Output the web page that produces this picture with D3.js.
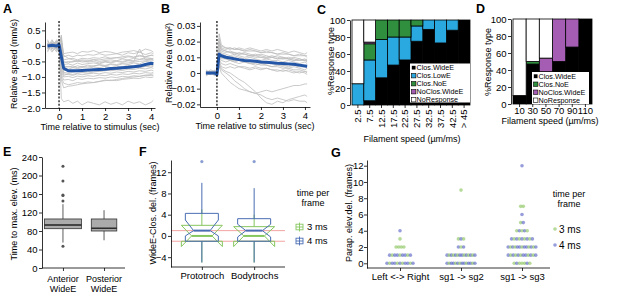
<!DOCTYPE html>
<html><head><meta charset="utf-8">
<script src="https://cdn.jsdelivr.net/npm/d3@7"></script>
<style>body{margin:0;background:#fff} text{font-family:"Liberation Sans",Arial,sans-serif}</style>
</head><body>
<svg id="c" width="617" height="297"></svg>
<script>
// ---------------- DATA ----------------
const timesAB = [-0.5,-0.3,-0.1,0,0.1,0.2,0.4,0.6,0.8,1,1.25,1.5,1.75,2,2.25,2.5,2.75,3,3.25,3.5,3.75,4,4.1];
const tracesA = [
 [0.05,0.1,0.0,0.1,0.2,-0.25,-0.22,-0.2,-0.25,-0.18,-0.2,-0.15,-0.22,-0.18,-0.2,-0.25,-0.2,-0.18,-0.15,-0.2,-0.1,-0.15,-0.2],
 [-0.05,0.2,-0.1,0.0,0.35,-0.35,-0.3,-0.35,-0.3,-0.32,-0.28,-0.3,-0.25,-0.3,-0.28,-0.25,-0.3,-0.22,-0.25,-0.2,-0.28,-0.22,-0.25],
 [0.1,-0.1,0.15,0.05,-0.2,-0.45,-0.42,-0.4,-0.45,-0.4,-0.42,-0.38,-0.4,-0.35,-0.4,-0.38,-0.35,-0.32,-0.36,-0.3,-0.35,-0.3,-0.32],
 [-0.1,0.0,-0.2,0.1,0.1,-0.5,-0.55,-0.5,-0.48,-0.52,-0.5,-0.45,-0.5,-0.47,-0.45,-0.48,-0.42,-0.45,-0.4,-0.43,-0.38,-0.4,-0.42],
 [0.0,0.05,0.1,-0.05,-0.4,-0.6,-0.58,-0.62,-0.55,-0.6,-0.57,-0.55,-0.58,-0.52,-0.55,-0.5,-0.53,-0.48,-0.5,-0.1,-0.45,-0.4,-0.45],
 [0.2,-0.1,0.0,0.05,0.0,-0.65,-0.68,-0.65,-0.7,-0.66,-0.68,-0.64,-0.62,-0.65,-0.6,-0.63,-0.58,-0.6,-0.55,-0.58,-0.5,-0.52,-0.55],
 [-0.2,0.1,-0.05,0.0,-0.6,-0.72,-0.75,-0.7,-0.73,-0.7,-0.72,-0.68,-0.7,-0.66,-0.7,-0.65,-0.68,-0.62,-0.64,-0.6,-0.62,-0.58,-0.6],
 [0.05,-0.05,0.2,0.1,0.3,-0.8,-0.78,-0.82,-0.78,-0.8,-0.76,-0.78,-0.74,-0.76,-0.72,-0.74,-0.7,-0.72,-0.68,-0.7,-0.66,-0.68,-0.65],
 [-0.05,0.0,-0.1,-0.2,-0.5,-0.85,-0.88,-0.85,-0.82,-0.85,-0.83,-0.8,-0.82,-0.78,-0.8,-0.77,-0.79,-0.75,-0.76,-0.72,-0.74,-0.7,-0.72],
 [0.0,0.15,0.05,0.0,-0.3,-0.9,-0.92,-0.95,-0.9,-0.93,-0.9,-0.88,-0.9,-0.86,-0.88,-0.84,-0.86,-0.82,-0.84,-0.8,-0.82,-0.78,-0.8],
 [0.1,-0.15,-0.05,0.05,-0.8,-1.0,-0.98,-1.02,-0.97,-1.0,-0.96,-0.98,-0.94,-0.96,-0.92,-0.94,-0.9,-0.92,-0.88,-0.9,-0.86,-0.88,-0.85],
 [-0.15,0.05,0.1,-0.1,-0.9,-1.1,-1.08,-1.12,-1.05,-1.08,-1.04,-1.06,-1.02,-1.04,-1.0,-1.02,-0.98,-1.0,-0.96,-0.98,-0.94,-0.96,-0.95],
 [0.0,-0.2,0.0,0.1,-1.0,-1.2,-1.25,-1.22,-1.18,-1.2,-1.16,-1.18,-1.14,-1.12,-1.1,-1.12,-1.08,-1.06,-1.04,-1.05,-1.0,-1.02,-1.0],
 [0.05,0.1,-0.1,0.0,-1.7,-1.8,-1.75,-1.85,-1.78,-1.9,-1.8,-1.85,-1.9,-1.8,-1.88,-1.82,-1.9,-1.78,-1.85,-1.8,-1.9,-1.82,-1.75],
 [-0.1,0.05,0.15,0.0,-0.15,-0.55,-0.5,-0.52,-0.48,-0.45,-0.47,-0.44,-0.45,-0.42,-0.4,-0.38,-0.4,-0.35,-0.37,-0.33,-0.35,-0.3,-0.3],
 [0.15,-0.05,0.05,0.0,-0.5,-0.7,-0.66,-0.7,-0.64,-0.68,-0.62,-0.66,-0.6,-0.63,-0.58,-0.6,-0.56,-0.55,-0.52,-0.5,-0.48,-0.45,-0.47],
 [-0.1,0.1,-0.15,0.05,-0.7,-0.95,-0.9,-0.92,-0.88,-0.86,-0.88,-0.84,-0.82,-0.8,-0.78,-0.76,-0.74,-0.72,-0.7,-0.68,-0.66,-0.62,-0.64],
 [0.0,-0.05,0.1,0.2,0.1,-0.3,-0.4,-0.45,-0.5,-0.48,-0.52,-0.5,-0.55,-0.5,-0.52,-0.48,-0.5,-0.46,-0.48,-0.44,-0.42,-0.45,-0.4],
 [0.05,0.0,-0.05,-0.1,-1.1,-1.35,-1.3,-1.28,-1.25,-1.22,-1.2,-1.18,-1.15,-1.1,-1.12,-1.08,-1.05,-1.02,-1.0,-0.98,-0.95,-0.92,-0.9]
];
const meanA = [0.0,0.02,0.0,0.05,-0.35,-0.72,-0.8,-0.8,-0.8,-0.79,-0.78,-0.77,-0.76,-0.75,-0.73,-0.72,-0.7,-0.69,-0.67,-0.65,-0.6,-0.56,-0.57];
const tracesB = [
 [0.001,0.0,0.001,0.0,0.025,0.018,0.016,0.015,0.016,0.015,0.014,0.015,0.014,0.013,0.014,0.013,0.012,0.013,0.012,0.011,0.012,0.011,0.011],
 [-0.001,0.001,0.0,0.002,0.02,0.015,0.014,0.013,0.012,0.013,0.012,0.011,0.012,0.011,0.01,0.011,0.01,0.009,0.01,0.009,0.008,0.009,0.008],
 [0.0,-0.001,0.002,-0.002,0.015,0.012,0.011,0.01,0.011,0.01,0.009,0.01,0.009,0.008,0.009,0.008,0.008,0.007,0.008,0.007,0.006,0.007,0.006],
 [0.002,0.0,-0.001,0.0,0.018,0.014,0.013,0.014,0.013,0.012,0.013,0.012,0.011,0.012,0.011,0.01,0.011,0.01,0.009,0.01,0.009,0.008,0.009],
 [-0.002,0.0,0.001,-0.001,0.01,0.008,0.007,0.008,0.007,0.006,0.007,0.006,0.005,0.006,0.005,0.004,0.005,0.004,0.003,0.004,0.003,0.002,0.003],
 [0.0,0.001,-0.002,0.0,0.012,0.01,0.009,0.008,0.007,0.008,0.007,0.006,0.006,0.005,0.005,0.004,0.004,0.003,0.003,0.002,0.002,0.001,0.001],
 [0.001,-0.001,0.0,0.001,0.008,0.004,0.003,0.004,0.003,0.004,0.003,0.002,0.003,0.002,0.003,0.002,0.001,0.002,0.001,0.0,0.001,0.0,-0.001],
 [0.0,0.002,0.001,-0.002,0.005,0.002,0.0,-0.002,-0.005,-0.007,-0.01,-0.012,-0.013,-0.012,-0.011,-0.012,-0.011,-0.01,-0.009,-0.008,-0.008,-0.007,-0.007],
 [-0.001,0.0,0.0,0.001,0.006,0.003,0.001,0.0,-0.002,-0.004,-0.006,-0.009,-0.012,-0.016,-0.019,-0.02,-0.018,-0.019,-0.017,-0.016,-0.015,-0.014,-0.015],
 [0.001,0.0,-0.001,0.0,0.004,0.0,-0.003,-0.006,-0.008,-0.01,-0.011,-0.012,-0.013,-0.014,-0.016,-0.017,-0.016,-0.017,-0.018,-0.017,-0.018,-0.018,-0.019],
 [0.0,0.0,0.001,0.0,0.022,0.016,0.015,0.016,0.015,0.016,0.015,0.016,0.015,0.014,0.015,0.014,0.015,0.014,0.013,0.014,0.013,0.012,0.013],
 [0.0,-0.001,0.0,0.001,0.014,0.011,0.01,0.009,0.01,0.009,0.008,0.008,0.007,0.007,0.006,0.006,0.005,0.005,0.004,0.005,0.004,0.004,0.003],
 [0.001,0.0,0.0,-0.001,0.009,0.006,0.005,0.006,0.005,0.004,0.004,0.003,0.004,0.003,0.003,0.002,0.002,0.001,0.002,0.001,0.0,0.001,0.0],
 [0.0,0.001,0.0,0.0,0.016,0.013,0.012,0.011,0.012,0.011,0.01,0.011,0.01,0.01,0.009,0.01,0.009,0.01,0.009,0.008,0.009,0.008,0.008],
 [0.001,0.0,-0.001,0.002,0.018,0.015,0.014,0.013,0.013,0.012,0.012,0.011,0.011,0.01,0.01,0.01,0.009,0.009,0.009,0.008,0.008,0.008,0.007],
 [0.0,0.001,0.0,-0.001,0.011,0.009,0.009,0.008,0.008,0.008,0.007,0.007,0.007,0.006,0.006,0.006,0.006,0.005,0.005,0.005,0.004,0.004,0.004],
 [-0.001,0.0,0.001,0.0,0.02,0.017,0.016,0.016,0.015,0.015,0.014,0.014,0.014,0.013,0.013,0.013,0.012,0.012,0.012,0.011,0.011,0.011,0.01]
];
const meanB = [0.0,0.0,0.0,-0.001,0.012,0.011,0.01,0.0095,0.009,0.0085,0.008,0.0078,0.0075,0.007,0.0068,0.0065,0.0062,0.006,0.0058,0.0055,0.005,0.0045,0.0043];

const ticksAy = [0.5,0,-0.5,-1,-1.5,-2], labelsAy = ["0.5","0","\u22120.5","\u22121.0","\u22121.5","\u22122.0"];
const ticksBy = [0.03,0.02,0.01,0,-0.01,-0.02], labelsBy = ["0.03","0.02","0.01","0","\u22120.01","\u22120.02"];
const ticksTime = [0,1,2,3,4];

const respKeysC = ["Clos.WideE","Clos.LowE","Clos.NoE","NoClos.WideE","NoResponse"];
const catsC = ["2.5","7.5","12.5","17.5","22.5","27.5","32.5","37.5","42.5","> 45"];
const cWide   = [0,5,32,47,53,75,89,73,88,100];
const cLow    = [25,48,45,33,27,18,11,27,12,0];
const cNoE    = [0,19,23,20,20,7,0,0,0,0];
const cNoClos = [0,2,0,0,0,0,0,0,0,0];
const cNoResp = [75,26,0,0,0,0,0,0,0,0];
const respKeysD = ["Clos.WideE","Clos.NoE","NoClos.WideE","NoResponse"];
const catsD = ["10","30","50","70","90","110"];
const dWide   = [10,47,38,50,67,100];
const dNoE    = [0,3,0,0,0,0];
const dNoClos = [0,0,16,50,33,0];
const dNoResp = [90,50,46,0,0,0];
const ticksPct = [0,20,40,60,80,100];

const catsE = ["Anterior WideE","Posterior WideE"];
const eLo = [55,60], eQ1 = [85,80], eMed = [93,86], eQ3 = [106,106], eHi = [138,125], eN = [40,19];
const eOut = [[47,145,157,158,188,220],[]];
const ticksE = [0,40,80,120,160,200,240];

const catsF = ["Prototroch","Bodytrochs"];
const seriesF = ["3 ms","4 ms"];
// per category: [3 ms, 4 ms]
const fLo = [[-5,-5],[-5,-5]], fQ1 = [[-1,-1],[-1,-1]], fMed = [[0,1],[0,1]];
const fQ3 = [[2,4.25],[1.75,3.25]], fHi = [[5,10],[4,9]];
const fNotchLo = [[-2,0],[-2,-0.2]], fNotchHi = [[2,3],[1.75,2.2]];
const fOut = [[[],[14]],[[],[14]]];
const fRef = [1,-1];
const ticksF = [-4,0,4,8,12];

const catsG = ["Left <-> Right","sg1 -> sg2","sg1 -> sg3"];
const gVals = [0,1,2,3,4,5,6,7,9,12];
const gCount3 = [[4,3,4,1,0,0,0,0,0,0],[5,6,1,2,0,0,0,0,1,0],[5,5,5,4,3,1,0,2,0,0]];
const gCount4 = [[7,6,0,0,1,0,0,0,0,0],[9,8,2,1,0,0,0,0,0,0],[2,7,8,5,2,1,1,0,0,1]];
const ticksG = [0,2,4,6,8,10,12];

// ---------------- HELPERS ----------------
const svg = d3.select("#c");
const FS = 9, TFS = 9.5;
function styleAxis(g, removeDomain){
  g.selectAll("text").attr("font-size",TFS).attr("fill","#000").attr("font-family","Liberation Sans, Arial, sans-serif");
  g.selectAll("line").attr("stroke","#000").attr("stroke-width",0.8);
  if (removeDomain) g.select(".domain").remove(); else g.select(".domain").attr("stroke","#000").attr("stroke-width",0.8);
}
function leftAxis(x, scale, vals, labels, pad){
  const g = svg.append("g").attr("transform",`translate(${x},0)`)
    .call(d3.axisLeft(scale).tickValues(vals).tickFormat((d,i)=>labels?labels[i]:d).tickSize(3).tickSizeOuter(0).tickPadding(pad==null?1.5:pad));
  styleAxis(g); return g;
}
function bottomAxis(y, scale, vals, labels, removeDomain){
  const ax = d3.axisBottom(scale).tickSize(3).tickSizeOuter(0).tickPadding(2);
  if (vals) ax.tickValues(vals);
  if (labels) ax.tickFormat((d,i)=>labels[i]);
  const g = svg.append("g").attr("transform",`translate(0,${y})`).call(ax);
  styleAxis(g, removeDomain); return g;
}
function txt(x,y,s,size,anchor,weight){
  return svg.append("text").attr("x",x).attr("y",y).attr("font-size",size||FS)
   .attr("text-anchor",anchor||"middle").attr("font-weight",weight||"normal").text(s);
}
function ytitle(x,y,s){
  svg.append("text").attr("transform",`translate(${x},${y}) rotate(-90)`).attr("text-anchor","middle")
   .attr("dy","0.35em").attr("font-size",FS).text(s);
}
function hline(x1,x2,y,color,w){ return svg.append("line").attr("x1",x1).attr("x2",x2).attr("y1",y).attr("y2",y).attr("stroke",color).attr("stroke-width",w||0.8); }
function vline(x,y1,y2,color,w){ return svg.append("line").attr("x1",x).attr("x2",x).attr("y1",y1).attr("y2",y2).attr("stroke",color).attr("stroke-width",w||0.8); }

// panel letters
[["A",3,13],["B",161,13],["C",317,14],["D",476,13],["E",3,156],["F",139,156],["G",331,157]]
  .forEach(([l,x,y])=>txt(x,y,l,12.5,"start","bold"));

// ---------------- PANEL A & B ----------------
function tracePanel(xs, ys, traces, mean, x0, yTicks, yLabels, title, titleX, titleY){
  const line = d3.line().x((d,i)=>xs(timesAB[i])).y(d=>ys(d));
  traces.forEach(t=>svg.append("path").attr("d",line(t)).attr("fill","none").attr("stroke","#bdbdbd").attr("stroke-width",0.8));
  svg.append("path").attr("d",line(mean)).attr("fill","none").attr("stroke","#2456a8").attr("stroke-width",3).attr("stroke-linejoin","round");
  vline(xs(0), ys.range()[1]-1, ys.range()[0], "#000", 1.2).attr("stroke-dasharray","2,1.6");
  leftAxis(x0, ys, yTicks, yLabels);
  bottomAxis(ys.range()[0], xs, ticksTime, ticksTime.map(String));
  txt(d3.mean(xs.range()), ys.range()[0]+22, "Time relative to stimulus (sec)");
  ytitle(titleX, titleY, title);
}
const xA = d3.scaleLinear().domain([-0.61,4.17]).range([45,155]);
const yA = d3.scaleLinear().domain([-2,0.77]).range([108,22]);
tracePanel(xA, yA, tracesA, meanA, 45, ticksAy, labelsAy, "Relative speed (mm/s)", 14, 64);
const xB = d3.scaleLinear().domain([-0.77,4.23]).range([200,310]);
const yB = d3.scaleLinear().domain([-0.0217,0.0325]).range([107,22]);
tracePanel(xB, yB, tracesB, meanB, 200, ticksBy, labelsBy, "Relative Area (mm\u00B2)", 169, 63);

// ---------------- PANEL C & D ----------------
const respColor = {"Clos.WideE":"#000000","Clos.LowE":"#2aa9e0","Clos.NoE":"#2f8f3f","NoClos.WideE":"#a45db3","NoResponse":"#ffffff"};
function stackPanel(cats, keys, cols, x0, x1, yTop, yBot, axisX, rotate, legend){
  const rows = cats.map((c,i)=>{ const r={cat:c}; keys.forEach((k,j)=>r[k]=cols[j][i]); return r; });
  const xs = d3.scaleBand().domain(cats).range([x0,x1]).padding(0);
  const ys = d3.scaleLinear().domain([0,100]).range([yBot,yTop]);
  const st = d3.stack().keys(keys)(rows);
  st.forEach(layer=>{
    svg.append("g").selectAll("rect").data(layer.filter(d=>d[1]-d[0]>0)).join("rect")
      .attr("x",d=>xs(d.data.cat)).attr("width",xs.bandwidth())
      .attr("y",d=>ys(d[1])).attr("height",d=>ys(d[0])-ys(d[1]))
      .attr("fill",respColor[layer.key]).attr("stroke","#000").attr("stroke-width",0.8);
  });
  leftAxis(axisX, ys, ticksPct, ticksPct.map(String));
  const g = bottomAxis(yBot, xs, null, null, true);
  if (rotate){
    g.selectAll("text").attr("transform","rotate(-90)").attr("x",-4.5).attr("y",0).attr("dy","0.35em").attr("text-anchor","end");
  } else {
    g.selectAll("text").attr("y",3.5);
  }
  const [lx,ly,lw,lh,step] = legend;
  svg.append("rect").attr("x",lx).attr("y",ly).attr("width",lw).attr("height",lh).attr("fill","#fff");
  keys.forEach((k,i)=>{
    const cy = ly+4.2+i*step;
    svg.append("rect").attr("x",lx+1.5).attr("y",cy-2.2).attr("width",4.4).attr("height",4.4)
      .attr("fill",respColor[k]).attr("stroke",k==="Clos.WideE"?"#fff":"#000").attr("stroke-width",0.6);
    svg.append("text").attr("x",lx+6.5).attr("y",cy).attr("dy","0.35em").attr("font-size",7.2).text(k);
  });
  return xs;
}
stackPanel(catsC, respKeysC, [cWide,cLow,cNoE,cNoClos,cNoResp], 352, 470, 20, 105, 350, true, [410,63.5,60,39,8]);
txt(412, 142, "Filament speed (\u00B5m/ms)");
ytitle(331, 61, "%Response type");
stackPanel(catsD, respKeysD, [dWide,dNoE,dNoClos,dNoResp], 513, 592, 19, 104, 511, false, [532,72,57,32,8]);
txt(550, 124, "Filament speed (\u00B5m/ms)");
ytitle(488, 62, "%Response type");

// ---------------- PANEL E ----------------
const xE = d3.scalePoint().domain(catsE).range([42,125]).padding(0.51);
const yE = d3.scaleLinear().domain([0,240]).range([268,157]);
const maxN = d3.max(eN);
catsE.forEach((c,i)=>{
  const cx = xE(c), w = 0.9*xE.step()*Math.sqrt(eN[i]/maxN);
  vline(cx, yE(eHi[i]), yE(eQ3[i]), "#333");
  vline(cx, yE(eQ1[i]), yE(eLo[i]), "#333");
  svg.append("rect").attr("x",cx-w/2).attr("width",w).attr("y",yE(eQ3[i])).attr("height",yE(eQ1[i])-yE(eQ3[i]))
    .attr("fill","#ababab").attr("stroke","#333").attr("stroke-width",0.8);
  hline(cx-w/2, cx+w/2, yE(eMed[i]), "#222", 1.4);
  eOut[i].forEach(v=>svg.append("circle").attr("cx",cx).attr("cy",yE(v)).attr("r",1.5).attr("fill","#555"));
});
leftAxis(42, yE, ticksE, ticksE.map(String));
const gE = svg.append("g").attr("transform","translate(0,268)").call(d3.axisBottom(xE).tickSize(3).tickSizeOuter(0).tickFormat(()=>""));
styleAxis(gE);
gE.select(".domain").attr("d","M42,0H125");
catsE.forEach(c=>{ const p=c.split(" "); txt(xE(c),282,p[0]); txt(xE(c),292,p[1]); });
ytitle(14, 214, "Time to max. elev. (ms)");

// ---------------- PANEL F ----------------
const xF = d3.scalePoint().domain(catsF).range([171,285]).padding(0.59);
const yF = d3.scaleLinear().domain([-5.85,14.3]).range([267,160]);
const fColor = ["#86c65f","#4a6db3"];
const fW = [41,33];
fRef.forEach(v=>hline(171,285,yF(v),"#f3a3a3",1));
catsF.forEach((c,i)=>{
  [0,1].forEach(s=>{
    const cx = xF(c), w = fW[s], x0 = cx-w/2, x1 = cx+w/2, ins = w/4;
    const col = fColor[s];
    vline(cx, yF(fHi[i][s]), yF(fQ3[i][s]), col, 1);
    vline(cx, yF(fQ1[i][s]), yF(fLo[i][s]), col, 1);
    const pts = [[x0,fQ3[i][s]],[x0,fNotchHi[i][s]],[x0+ins,fMed[i][s]],[x0,fNotchLo[i][s]],[x0,fQ1[i][s]],
                 [x1,fQ1[i][s]],[x1,fNotchLo[i][s]],[x1-ins,fMed[i][s]],[x1,fNotchHi[i][s]],[x1,fQ3[i][s]]];
    svg.append("path").attr("d",d3.line().x(p=>p[0]).y(p=>yF(p[1]))(pts)+"Z")
      .attr("fill","none").attr("stroke",col).attr("stroke-width",1);
    hline(x0+ins, x1-ins, yF(fMed[i][s]), col, 2);
    fOut[i][s].forEach(v=>svg.append("circle").attr("cx",cx).attr("cy",yF(v)).attr("r",1.6).attr("fill","#8d9fd0"));
  });
});
leftAxis(171, yF, ticksF, ticksF.map(v=>v<0?"\u2212"+(-v):String(v)));
const gF = svg.append("g").attr("transform","translate(0,267)").call(d3.axisBottom(xF).tickSize(3).tickSizeOuter(0).tickPadding(2));
styleAxis(gF);
gF.select(".domain").attr("d","M171,0H285");
ytitle(153, 213, "WideE-Clos. del. (frames)");
txt(313, 196, "time per", 9);
txt(313, 206, "frame", 9);
seriesF.forEach((s,i)=>{
  const cy = 227+i*14, col = fColor[i];
  svg.append("rect").attr("x",296).attr("y",cy-2.8).attr("width",7).attr("height",5.6).attr("fill","none").attr("stroke",col).attr("stroke-width",0.9);
  hline(296,303,cy,col,0.9);
  vline(299.5,cy-4.5,cy+4.5,col,0.9);
  svg.append("text").attr("x",307).attr("y",cy).attr("dy","0.35em").attr("font-size",9.5).text(s);
});

// ---------------- PANEL G ----------------
const xG = d3.scalePoint().domain(catsG).range([400,522]);
const yG = d3.scaleLinear().domain([-0.58,12.7]).range([268,160]);
const gColor = ["rgba(150,203,110,0.7)","rgba(95,105,200,0.65)"];
catsG.forEach((c,ci)=>{
  gVals.forEach((v,vi)=>{
    const n3 = gCount3[ci][vi], n4 = gCount4[ci][vi], n = n3+n4;
    if (!n) return;
    const seq = [];
    let a=0,b=0;
    for (let k=0;k<n;k++){
      if (b>=n4 || (a<n3 && (a+0.5)/n3 <= (b+0.5)/n4)) { seq.push(0); a++; } else { seq.push(1); b++; }
    }
    const width = Math.min(30, n*2.6);
    seq.forEach((s,k)=>{
      svg.append("circle").attr("cx",xG(c)-width/2+(k+0.5)*width/n).attr("cy",yG(v)).attr("r",1.8).attr("fill",gColor[s]);
    });
  });
});
leftAxis(367, yG, ticksG, ticksG.map(String), 0.5);
const gG = svg.append("g").attr("transform","translate(0,268)").call(d3.axisBottom(xG).tickSize(3).tickSizeOuter(0).tickPadding(2));
styleAxis(gG);
gG.select(".domain").attr("d","M367,0H550");
ytitle(349, 213, "Parap. elev.del. (frames)");
txt(569, 197, "time per", 9);
txt(569, 207, "frame", 9);
seriesF.forEach((s,i)=>{
  const cy = 229+i*16;
  svg.append("circle").attr("cx",555).attr("cy",cy).attr("r",1.8).attr("fill",gColor[i]);
  svg.append("text").attr("x",559).attr("y",cy).attr("dy","0.35em").attr("font-size",10).text(s);
});
</script>
</body></html>
